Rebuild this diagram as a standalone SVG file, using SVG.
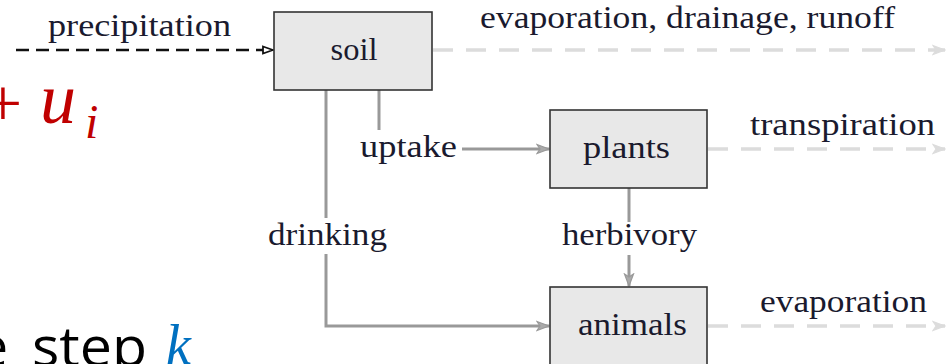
<svg xmlns="http://www.w3.org/2000/svg" width="948" height="364" viewBox="0 0 948 364">
  <style>
    .box { fill: #e8e8e8; stroke: #333; stroke-width: 1.6; }
    .lbl { font-family: "Liberation Serif", "DejaVu Serif", serif; font-size: 31px; fill: #1a1a2e; text-anchor: middle; }
    .flow { fill: none; stroke: #999; stroke-width: 3; }
    .loss { fill: none; stroke: #dcdcdc; stroke-width: 3.5; stroke-dasharray: 20 13; }
    .input { fill: none; stroke: #111; stroke-width: 2.5; stroke-dasharray: 13 7; }
    .math { font-family: "Liberation Serif", "DejaVu Serif", serif; font-style: italic; fill: #c00000; }
  </style>
  <defs>
    <marker id="ahGray" markerWidth="14" markerHeight="12" refX="13" refY="6" orient="auto" markerUnits="userSpaceOnUse">
      <path d="M1,1.5 L13,6 L1,10.5 L4,6 Z" fill="#aaa" stroke="#999" stroke-width="1.2"/>
    </marker>
    <marker id="ahLight" markerWidth="14" markerHeight="12" refX="13" refY="6" orient="auto" markerUnits="userSpaceOnUse">
      <path d="M1,1.5 L13,6 L1,10.5 L4,6 Z" fill="#dcdcdc" stroke="#dcdcdc" stroke-width="1.2"/>
    </marker>
    <marker id="ahBlack" markerWidth="12" markerHeight="10" refX="11" refY="5" orient="auto" markerUnits="userSpaceOnUse">
      <path d="M1,1.5 L11,5 L1,8.5 Z" fill="#fff" stroke="#111" stroke-width="1.8"/>
    </marker>
  </defs>

  <!-- partial equation and caption text at the left margin -->
  <g id="equation">
    <text x="3" y="126" font-family="'Liberation Serif', serif" font-size="68" fill="#c00000" text-anchor="middle">+</text>
    <text x="40" y="123" class="math" font-size="72">u</text>
    <text x="85" y="138" class="math" font-size="48">i</text>
  </g>
  <g id="caption">
    <text x="8" y="366" font-family="'Open Sans', 'Noto Sans', sans-serif" font-size="54" fill="#000" text-anchor="end">e</text>
    <text x="32" y="366" font-family="'Open Sans', 'Noto Sans', sans-serif" font-size="54" fill="#000" textLength="115" lengthAdjust="spacingAndGlyphs">step</text>
    <text x="166" y="364" font-family="'Liberation Serif', serif" font-style="italic" font-size="56" fill="#0070c0">k</text>
  </g>

  <!-- connectors -->
  <g id="connectors">
    <line class="input" x1="16" y1="50" x2="273" y2="50" marker-end="url(#ahBlack)"/>
    <line class="loss" x1="433" y1="50" x2="945" y2="50" marker-end="url(#ahLight)"/>
    <line class="loss" x1="708" y1="149" x2="945" y2="149" marker-end="url(#ahLight)"/>
    <line class="loss" x1="708" y1="326" x2="945" y2="326" marker-end="url(#ahLight)"/>
    <!-- uptake: soil -> plants -->
    <polyline class="flow" points="379,90 379,130"/>
    <line class="flow" x1="462" y1="149" x2="549" y2="149" marker-end="url(#ahGray)"/>
    <!-- drinking: soil -> animals -->
    <polyline class="flow" points="326,90 326,218"/>
    <polyline class="flow" points="326,254 326,326 549,326" marker-end="url(#ahGray)"/>
    <!-- herbivory: plants -> animals -->
    <line class="flow" x1="629" y1="188" x2="629" y2="222"/>
    <line class="flow" x1="629" y1="255" x2="629" y2="286" marker-end="url(#ahGray)"/>
  </g>

  <!-- connector labels -->
  <g id="labels">
    <text class="lbl" x="139.5" y="36" textLength="183" lengthAdjust="spacingAndGlyphs">precipitation</text>
    <text class="lbl" x="687.5" y="28" textLength="415" lengthAdjust="spacingAndGlyphs">evaporation, drainage, runoff</text>
    <text class="lbl" x="408.5" y="157" textLength="97" lengthAdjust="spacingAndGlyphs">uptake</text>
    <text class="lbl" x="842.5" y="135" textLength="185" lengthAdjust="spacingAndGlyphs">transpiration</text>
    <text class="lbl" x="327.5" y="245" textLength="119" lengthAdjust="spacingAndGlyphs">drinking</text>
    <text class="lbl" x="629.5" y="245" textLength="135" lengthAdjust="spacingAndGlyphs">herbivory</text>
    <text class="lbl" x="843.5" y="312" textLength="167" lengthAdjust="spacingAndGlyphs">evaporation</text>
  </g>

  <!-- nodes -->
  <g id="soil">
    <rect class="box" x="274" y="12" width="158" height="78"/>
    <text class="lbl" x="354" y="60" textLength="47" lengthAdjust="spacingAndGlyphs">soil</text>
  </g>
  <g id="plants">
    <rect class="box" x="550" y="110" width="157" height="78"/>
    <text class="lbl" x="626.5" y="158" textLength="87" lengthAdjust="spacingAndGlyphs">plants</text>
  </g>
  <g id="animals">
    <rect class="box" x="550" y="287" width="157" height="90"/>
    <text class="lbl" x="632.5" y="335" textLength="109" lengthAdjust="spacingAndGlyphs">animals</text>
  </g>
</svg>
